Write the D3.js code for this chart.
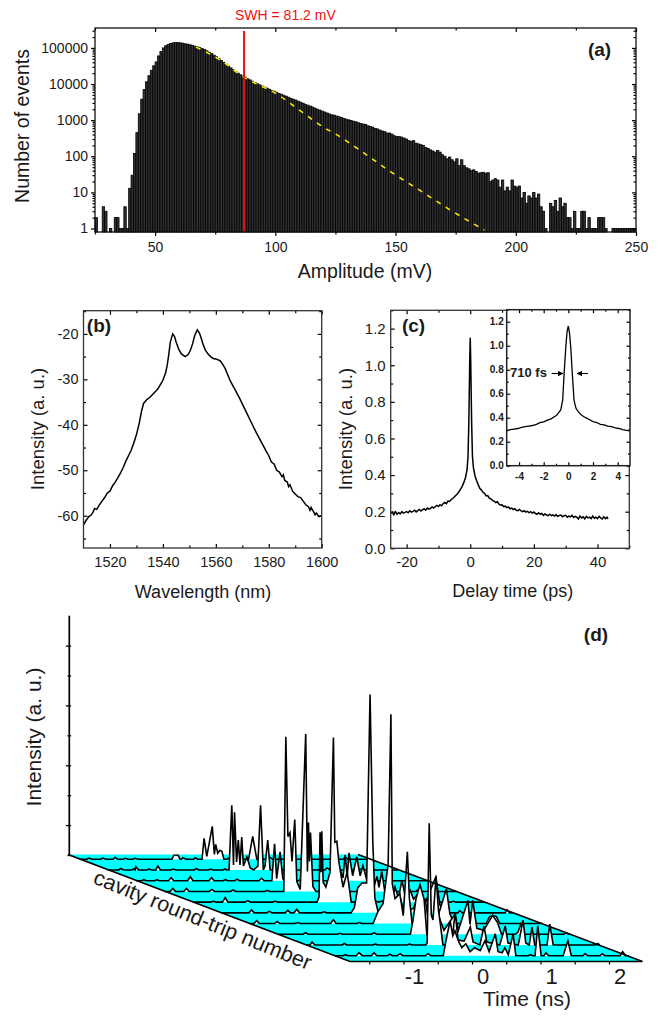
<!DOCTYPE html>
<html>
<head>
  <meta charset="utf-8">
  <title>Rogue wave statistics, spectrum, autocorrelation, time traces</title>
  <style>
  body { margin: 0; background: #fff; }
  svg { display: block; }
  text { font-family: "Liberation Sans", Arial, sans-serif; fill: #1a1a1a; }
  .domain { display: none; }
  .tick line { stroke: #000; }
  </style>
</head>
<body>
  <div id="chart"></div>
  <script src="https://d3js.org/d3.v7.min.js"></script>
  <script type="text/javascript">
    // (a) histogram, one count per 1 mV bin, first bin starts at 25 mV
    var ampStart = 25;
    var ampCounts = [2,0,0,4,3,0,1,0,2,2,1,1,4,1,13,30,120,450,1500,3800,7000,11500,17000,24000,32000,
      41000,60000,80000,100000,115000,125000,132000,138000,140000,140000,138000,135000,130000,127000,122000,
      117000,112000,107000,102000,96000,90000,83000,76000,70000,63000,57000,51000,45000,40000,35500,
      31500,28000,25000,22500,20000,18000,16800,15500,14000,13000,12000,11000,10200,9500,8800,
      8200,7700,7200,6700,6300,5900,5500,5200,4900,4600,4300,4000,3800,3600,3350,
      3150,2950,2750,2600,2450,2300,2150,2000,1900,1780,1680,1580,1480,1400,1370,
      1300,1240,1180,1120,1060,1020,980,930,900,850,810,780,760,700,670,
      640,590,570,530,500,480,440,440,410,370,350,350,340,320,300,
      270,260,270,230,220,210,200,175,165,150,140,130,145,130,110,
      100,85,95,80,70,85,55,80,55,48,45,40,42,38,34,
      35,36,34,35,20,22,24,22,14,22,11,14,11,22,15,
      14,15,7,10,5,8,7,10,7,9,4,3,1,0,5,
      4,6,3,7,4,5,2,2,1,3,1,1,3,3,1,
      2,1,1,1,2,2,2,1,0,0,1,1,1,1,1,1,1,1,1,1];
    var ampTicks = [50, 100, 150, 200, 250];
    var ampMinor = [25, 75, 125, 175, 225];
    var countTicks = [1, 10, 100, 1000, 10000, 100000];
    var gaussAmp = [67, 72, 78, 86.5, 93, 100, 110, 120.5, 125, 136, 148, 160, 172, 187];
    var gaussCount = [105000, 72000, 42000, 16000, 9500, 5600, 1900, 610, 415, 135, 37, 11.5, 3.5, 0.9];
    var swhAmp = 87;

    // (b) optical spectrum
    var specWave = [1510,1511,1512,1513,1513.6,1514.2,1515,1516,1517,1518,1519,1520,1521,1522,1523,1524,1525,1526,1527,1528,1529,1530,1531,1532,1532.7,1533.4,1534,1535,1536,1537,1538,1539,1540,1541,1541.6,1542.2,1542.8,1543.7,1544.4,1545,1546,1547,1548.4,1549.5,1550.4,1551.2,1552,1553,1553.8,1554.4,1555,1556,1557,1558,1559,1560,1561.6,1562.5,1563.5,1564.5,1565.5,1567,1569,1571,1573,1575,1577,1579,1580,1581,1582,1583,1584,1585,1585.5,1586,1587,1587.5,1588,1589,1590,1591,1592,1593,1594,1595,1595.6,1596,1597,1597.5,1598,1599,1600];
    var specDb = [-62,-61,-60.2,-59.8,-59.2,-58.4,-58.6,-57.6,-56.8,-56,-55,-54.6,-53.4,-52.6,-51.6,-50.6,-49.4,-48,-46.8,-45.6,-44,-42.2,-39.8,-36.8,-35.3,-34.8,-34.4,-34,-33.4,-32.8,-32.2,-31.2,-30.2,-28.6,-27,-24.6,-21.8,-20,-20.6,-21.8,-23.4,-24.4,-25,-24.6,-23.6,-22.2,-20.4,-19.1,-19.8,-20.8,-22,-23.5,-24.4,-25,-25.4,-25.5,-25.9,-26.6,-27.6,-29,-30.4,-32,-34.2,-36.6,-39,-41.4,-43.6,-45.8,-46.8,-48.2,-48.6,-50,-50.4,-51.4,-51,-52.2,-52.6,-53.6,-53.2,-54.6,-55.2,-55.8,-56,-56.8,-57.6,-58,-58.8,-58.2,-59.2,-59.8,-59.4,-60.2,-60,-60.6,-60.4];
    var waveTicks = [1520, 1540, 1560, 1580, 1600];
    var waveMinor = [1530, 1550, 1570, 1590];
    var dbTicks = [-60, -50, -40, -30, -20];
    var dbMinor = [-65, -55, -45, -35, -25, -15];

    // (c) autocorrelation, long scan and zoomed inset
    var acfDelay = [-25,-24.5,-24,-23.5,-23,-22.5,-22,-21.5,-21,-20.5,-20,-19.5,-19,-18.5,-18,-17.5,-17,-16.5,-16,-15.5,-15,-14.5,-14,-13.5,-13,-12.5,-12,-11.5,-11,-10.5,-10,-9.5,-9,-8.5,-8,-7.5,-7,-6.5,-6,-5.5,-5,-4.5,-4,-3.5,-3,-2.5,-2,-1.5,-1,-0.7,-0.45,-0.3,-0.15,0,0.15,0.3,0.45,0.7,1,1.5,2,2.5,3,3.5,4,4.5,5,5.5,6,6.5,7,7.5,8,8.5,9,9.5,10,10.5,11,11.5,12,12.5,13,13.5,14,14.5,15,15.5,16,16.5,17,17.5,18,18.5,19,19.5,20,20.5,21,21.5,22,22.5,23,23.5,24,24.5,25,25.5,26,26.5,27,27.5,28,28.5,29,29.5,30,30.5,31,31.5,32,32.5,33,33.5,34,34.5,35,35.5,36,36.5,37,37.5,38,38.5,39,39.5,40,40.5,41,41.5,42,42.5,43,43.3];
    var acfInt = [0.19,0.197,0.183,0.2,0.186,0.195,0.188,0.2,0.192,0.196,0.2,0.194,0.205,0.198,0.202,0.208,0.199,0.206,0.212,0.204,0.21,0.216,0.208,0.22,0.214,0.218,0.226,0.22,0.228,0.234,0.228,0.238,0.232,0.244,0.25,0.244,0.258,0.256,0.266,0.272,0.28,0.29,0.298,0.31,0.325,0.34,0.36,0.385,0.43,0.5,0.68,0.85,1.03,1.15,1.03,0.85,0.68,0.5,0.44,0.395,0.37,0.348,0.328,0.318,0.306,0.3,0.286,0.288,0.274,0.27,0.262,0.258,0.25,0.254,0.242,0.236,0.238,0.228,0.23,0.222,0.226,0.216,0.22,0.212,0.216,0.208,0.206,0.212,0.204,0.2,0.206,0.198,0.202,0.194,0.2,0.192,0.198,0.19,0.186,0.194,0.186,0.19,0.18,0.188,0.182,0.178,0.186,0.178,0.182,0.176,0.184,0.174,0.18,0.182,0.172,0.178,0.18,0.17,0.176,0.172,0.18,0.168,0.174,0.17,0.16,0.176,0.166,0.172,0.16,0.174,0.166,0.17,0.162,0.176,0.164,0.17,0.162,0.174,0.166,0.16,0.172,0.162,0.17,0.16];
    var insetDelay = [-5,-4.7,-4.4,-4.1,-3.8,-3.5,-3.2,-2.9,-2.6,-2.3,-2,-1.7,-1.4,-1.1,-0.95,-0.8,-0.62,-0.46,-0.35,-0.2,-0.1,0,0.1,0.2,0.32,0.46,0.62,0.8,1.08,1.4,1.7,2,2.3,2.6,2.9,3.2,3.5,3.8,4.1,4.4,4.7,5];
    var insetInt = [0.29,0.3,0.305,0.31,0.32,0.325,0.33,0.335,0.345,0.358,0.365,0.38,0.39,0.41,0.42,0.44,0.464,0.547,0.755,1.0,1.12,1.164,1.1,0.98,0.77,0.547,0.478,0.45,0.42,0.4,0.385,0.367,0.36,0.345,0.34,0.33,0.325,0.315,0.31,0.3,0.295,0.29];
    var delayTicks = [-20, 0, 20, 40];
    var delayMinor = [-10, 10, 30, 50];
    var intTicks = [0, 0.2, 0.4, 0.6, 0.8, 1.0, 1.2];
    var intMinor = [0.1, 0.3, 0.5, 0.7, 0.9, 1.1, 1.3];
    var insetTicks = [-4, -2, 0, 2, 4];
    var insetMinor = [-3, -1, 1, 3];

    // (d) one time trace per cavity round trip, back to front: [time ns, intensity]
    var trace0 = [[-2,0],[-1.89,0],[-1.86,1.2],[-1.82,0],[-1.69,0],[-1.66,1.2],[-1.61,0],[-1.51,0],[-1.48,2],[-1.44,0],[-1.36,0],[-1.33,1],[-1.29,0],[-1.22,0],[-1.19,1],[-1.14,0],[-0.65,0],[-0.62,4],[-0.56,4],[-0.53,0],[-0.51,0],[-0.49,1.5],[-0.44,0],[-0.33,0],[-0.31,1.5],[-0.27,0],[-0.21,0],[-0.18,21],[-0.14,3],[-0.06,33],[-0.03,5],[-0.01,15],[0.02,6],[0.05,9],[0.08,8],[0.11,0],[0.15,0],[0.17,1],[0.2,0],[0.47,0],[0.53,23],[0.59,0],[0.76,0],[0.78,2],[0.82,0],[1.27,0],[1.3,1],[1.34,0],[1.85,0],[1.88,2],[1.92,0],[2.23,0]];
    var trace1 = [[-2,0],[-1.84,0],[-1.81,1.5],[-1.77,0],[-1.65,0],[-1.62,1],[-1.6,0],[-1.59,3.5],[-1.55,0],[-1.43,0],[-1.4,1],[-1.36,0],[-1.3,0],[-1.27,4],[-1.23,0],[-1.08,0],[-1.05,1],[-1,0],[-0.74,0],[-0.71,1.5],[-0.67,0],[-0.53,0],[-0.5,1],[-0.46,0],[-0.32,0],[-0.29,1],[-0.26,0],[-0.23,0],[-0.19,65],[-0.165,5],[-0.15,58],[-0.12,8],[-0.095,30],[-0.07,5],[-0.045,33],[-0.02,4],[0.03,13],[0.08,2],[0.13,0],[0.19,4],[0.23,65],[0.27,0],[0.295,4],[0.335,30],[0.37,0],[0.67,0],[0.7,1],[0.75,0],[1.17,0],[1.2,2],[1.25,0],[1.67,0],[1.7,1],[1.75,0],[2.24,0]];
    var trace2 = [[-2,0],[-1.92,0],[-1.89,1],[-1.85,0],[-1.73,0],[-1.7,1],[-1.66,0],[-1.53,0],[-1.49,3],[-1.45,0],[-1.25,0],[-1.21,4],[-1.17,0],[-0.94,0],[-0.9,3],[-0.86,0],[-0.73,0],[-0.7,1],[-0.66,0],[-0.56,0],[-0.53,1.5],[-0.49,0],[-0.21,0],[-0.17,2.5],[-0.13,0],[-0.02,0],[0.02,37],[0.05,2],[0.1,29],[0.14,2],[0.17,0],[0.37,0],[0.4,2],[0.45,0],[0.92,0],[0.97,12],[1.02,3],[1.05,26],[1.08,4],[1.106,28],[1.16,5],[1.22,24],[1.27,5],[1.31,15],[1.37,0],[1.67,0],[1.7,2],[1.75,0],[2.25,0]];
    var trace3 = [[-2,0],[-1.92,0],[-1.88,3],[-1.84,0],[-1.72,0],[-1.68,3],[-1.64,0],[-1.35,0],[-1.31,2],[-1.27,0],[-1.04,0],[-1,1.5],[-0.96,0],[-0.54,0],[-0.5,1],[-0.46,0],[-0.26,0],[-0.23,155],[-0.2,55],[-0.17,59],[-0.14,30],[-0.1,72],[-0.07,10],[-0.02,2],[0.06,158],[0.085,20],[0.1,69],[0.115,30],[0.13,59],[0.165,5],[0.21,0],[0.57,0],[0.6,2],[0.65,0],[1.02,0],[1.05,3],[1.1,15],[1.13,4],[1.17,20],[1.21,2],[1.26,0],[1.67,0],[1.7,2],[1.75,0],[2.26,0]];
    var trace4 = [[-2,0],[-1.74,0],[-1.7,1],[-1.66,0],[-1.57,0],[-1.53,4.5],[-1.49,0],[-1.24,0],[-1.2,1.5],[-1.16,0],[-0.84,0],[-0.8,1],[-0.76,0],[-0.19,0],[-0.16,5],[-0.145,70],[-0.13,30],[-0.12,71],[-0.1,20],[-0.06,15],[0,30],[0.05,165],[0.07,60],[0.1,61],[0.13,40],[0.19,15],[0.25,30],[0.31,0],[0.62,0],[0.65,2],[0.7,0],[0.91,3],[0.95,15],[1,4],[1.05,22],[1.1,5],[1.17,12],[1.22,3],[1.28,8],[1.33,0],[1.77,0],[1.8,1],[1.84,0],[2.26,0]];
    var trace5 = [[-2,0],[-1.6,0],[-1.56,3],[-1.52,0],[-1.34,0],[-1.3,1.5],[-1.26,0],[-1.07,0],[-1.03,2.5],[-0.99,0],[-0.94,0],[-0.9,3.5],[-0.86,0],[-0.54,0],[-0.5,1],[-0.46,0],[-0.11,0],[-0.06,5],[-0.01,25],[0.05,30],[0.12,30],[0.17,219],[0.21,72],[0.24,15],[0.29,0],[0.5,3],[0.61,15],[0.66,3],[0.8,4],[0.9,20],[0.94,4],[1.13,36],[1.19,8],[1.25,0],[1.45,0],[1.48,2],[1.52,0],[2.14,0],[2.17,3],[2.21,0],[2.27,0]];
    var trace6 = [[-2,0],[-1.94,0],[-1.9,3],[-1.86,0],[-1.64,0],[-1.6,2],[-1.56,0],[-1.34,0],[-1.3,1],[-1.26,0],[-0.82,0],[-0.78,4],[-0.74,0],[-0.44,0],[-0.4,1],[-0.36,0],[-0.2,0],[-0.13,12],[-0.055,20],[0.02,60],[0.06,210],[0.08,40],[0.12,25],[0.19,30],[0.24,8],[0.3,72],[0.33,25],[0.37,0],[0.48,3],[0.56,25],[0.6,6],[0.75,8],[0.87,35],[0.92,10],[0.98,0],[1.45,0],[1.5,7],[1.55,8],[1.6,7],[1.65,0],[2.27,0]];
    var trace7 = [[-2,0],[-1.64,0],[-1.6,1.5],[-1.56,0],[-1.14,0],[-1.1,1],[-1.06,0],[-0.64,0],[-0.6,1.5],[-0.56,0],[-0.07,0],[-0.03,15],[0.01,35],[0.07,50],[0.13,35],[0.17,0],[0.36,15],[0.42,4],[0.58,20],[0.63,4],[0.77,34],[0.8,10],[0.84,34],[0.9,6],[1,4],[1.07,12],[1.13,19],[1.2,12],[1.26,0],[1.46,0],[1.5,2],[1.54,10],[1.59,0],[2.17,0],[2.2,1.5],[2.24,0],[2.27,0]];
    var trace8 = [[-2,0],[-1.95,0],[-1.92,3],[-1.88,0],[-1.48,0],[-1.45,1.5],[-1.41,0],[-1.03,0],[-1,1],[-0.96,0],[-0.53,0],[-0.5,1],[-0.46,0],[-0.26,0],[-0.24,2],[-0.21,122],[-0.18,30],[-0.155,25],[-0.11,69],[-0.075,35],[-0.045,20],[-0.01,0],[0.09,0],[0.14,15],[0.17,33],[0.21,5],[0.3,4],[0.39,18],[0.43,3],[0.53,0],[0.59,19],[0.63,3],[0.82,0],[0.9,19],[0.94,2],[1.09,0],[1.16,25],[1.2,2],[1.25,0],[1.29,18],[1.33,0],[1.51,0],[1.55,21],[1.6,0],[2.22,0],[2.25,1.5],[2.28,0]];
    var trace9 = [[-2,0],[-1.88,0],[-1.85,1],[-1.81,0],[-1.69,0],[-1.65,3],[-1.6,0],[-1.47,0],[-1.43,3],[-1.39,0],[-1.23,0],[-1.2,1.5],[-1.16,0],[-1.09,0],[-1.05,2],[-1.01,0],[-0.68,0],[-0.64,2],[-0.6,0],[-0.42,0],[-0.38,15],[-0.32,35],[-0.28,20],[-0.25,25],[-0.2,15],[-0.15,8],[-0.09,12],[-0.03,4],[0.04,8],[0.12,5],[0.19,15],[0.25,4],[0.34,22],[0.38,4],[0.44,3],[0.48,8],[0.53,1],[0.6,22],[0.64,0],[0.82,0],[0.85,1],[0.89,0],[0.92,0],[0.96,30],[1.01,0],[1.05,0],[1.08,3],[1.12,0],[1.33,0],[1.4,15],[1.45,0],[1.62,0],[1.65,2],[1.69,0],[1.87,0],[1.9,2],[1.94,0],[2.16,0],[2.2,4],[2.24,0],[2.29,0]];
    var traces = [trace0, trace1, trace2, trace3, trace4, trace5, trace6, trace7, trace8, trace9];
    var timeTicks = [-1.5, -1, -0.5, 0, 0.5, 1, 1.5, 2];
    var timeLabels = [-1, 0, 1, 2];
    var intensityTicks = [0, 30, 60, 90, 120, 150, 180, 210];

    var svg = d3.select("#chart").append("svg")
        .attr("width", 658)
        .attr("height", 1017);

    var fmtPlain = function(d) { return String(d); };
    var fmtOne = function(d) { return d.toFixed(1); };

    // draws ticks only; opts.inward turns them to the inside of the frame
    function addAxis(g, axisFn, scale, major, minor, opts) {
      var sign = opts.inward ? -1 : 1;
      var ax = g.append("g").attr("transform", opts.translate);
      ax.call(axisFn(scale)
          .tickValues(major)
          .tickFormat(opts.labels ? opts.format : "")
          .tickSizeInner(sign * opts.len)
          .tickSizeOuter(0)
          .tickPadding(opts.padding));
      // axis() puts its own font on the group, so this has to come after the call
      ax.attr("font-size", opts.fontSize)
          .attr("font-family", "Liberation Sans")
          .attr("font-weight", opts.bold ? "bold" : "normal");
      var mn = g.append("g").attr("transform", opts.translate);
      mn.call(axisFn(scale)
          .tickValues(minor)
          .tickFormat("")
          .tickSizeInner(sign * opts.minorLen)
          .tickSizeOuter(0));
      ax.selectAll(".tick line").attr("stroke-width", 1.2);
      mn.selectAll(".tick line").attr("stroke-width", 1.2);
    }

    function frameAxes(g, x, y, xMajor, xMinor, yMajor, yMinor, opts) {
      var x0 = x.range()[0], x1 = x.range()[1], y0 = y.range()[0], y1 = y.range()[1];
      var base = {len: opts.len, minorLen: opts.minorLen, fontSize: opts.fontSize, bold: opts.bold};
      addAxis(g, d3.axisBottom, x, xMajor, xMinor, Object.assign({}, base, {translate: "translate(0," + y0 + ")", inward: opts.inward, labels: true, format: opts.xFormat, padding: opts.xPad}));
      addAxis(g, d3.axisLeft, y, yMajor, yMinor, Object.assign({}, base, {translate: "translate(" + x0 + ",0)", inward: opts.inward, labels: true, format: opts.yFormat, padding: opts.yPad}));
      addAxis(g, d3.axisTop, x, xMajor, xMinor, Object.assign({}, base, {translate: "translate(0," + y1 + ")", inward: true, labels: false, padding: 0}));
      addAxis(g, d3.axisRight, y, yMajor, yMinor, Object.assign({}, base, {translate: "translate(" + x1 + ",0)", inward: true, labels: false, padding: 0}));
      g.append("rect")
          .attr("x", x0).attr("y", y1)
          .attr("width", x1 - x0).attr("height", y0 - y1)
          .attr("fill", "none")
          .attr("stroke", opts.frameColor || "#111")
          .attr("stroke-width", opts.frameWidth || 1.3);
    }

    function label(g, txt, x, y, size, opts) {
      opts = opts || {};
      var t = g.append("text")
          .attr("x", x).attr("y", y)
          .attr("font-size", size)
          .attr("text-anchor", opts.anchor || "middle")
          .attr("font-weight", opts.bold ? "bold" : "normal")
          .text(txt);
      if (opts.rotate !== undefined) t.attr("transform", "rotate(" + opts.rotate + " " + x + " " + y + ")");
      if (opts.fill) t.style("fill", opts.fill);
      return t;
    }

    // ---- panel a
    function drawHistogram() {
      var g = svg.append("g");
      var x = d3.scaleLinear().domain([25, 250]).range([95, 636]);
      var y = d3.scaleLog().domain([0.8, 356000]).range([232, 28]);

      g.append("g").selectAll("rect")
        .data(ampCounts.map(function(c, i) { return {bin: ampStart + i, count: c}; })
          .filter(function(d) { return d.count > 0; }))
        .enter().append("rect")
          .attr("x", function(d) { return x(d.bin); })
          .attr("width", function(d) { return x(d.bin + 1) - x(d.bin); })
          .attr("y", function(d) { return y(d.count); })
          .attr("height", function(d) { return y.range()[0] - y(d.count); })
          .attr("fill", "#303030")
          .attr("stroke", "#000")
          .attr("stroke-width", 0.8);

      g.append("path")
          .datum(d3.zip(gaussAmp, gaussCount))
          .attr("fill", "none")
          .attr("stroke", "#ffee00")
          .attr("stroke-width", 1.5)
          .attr("stroke-dasharray", "5,6")
          .attr("d", d3.line()
            .curve(d3.curveMonotoneX)
            .x(function(d) { return x(d[0]); })
            .y(function(d) { return y(d[1]); }));

      g.append("line")
          .attr("x1", x(swhAmp)).attr("x2", x(swhAmp))
          .attr("y1", 31).attr("y2", y.range()[0])
          .attr("stroke", "#f00c0c")
          .attr("stroke-width", 2);

      var minorCounts = [];
      countTicks.forEach(function(c) {
        [2, 3, 4, 5, 6, 7, 8, 9].forEach(function(k) { minorCounts.push(c * k); });
      });
      minorCounts = minorCounts.filter(function(c) { return c < 356000; });

      frameAxes(g, x, y, ampTicks, ampMinor, countTicks, minorCounts, {
        len: 4, minorLen: 2.5, fontSize: 14, xFormat: fmtPlain, yFormat: fmtPlain, xPad: 6, yPad: 3, frameWidth: 1.3
      });

      label(g, "SWH = 81.2 mV", 235, 20, 14, {anchor: "start", fill: "#f01010"});
      label(g, "Amplitude (mV)", 365, 278, 19.5);
      label(g, "Number of events", 29, 126, 19.5, {rotate: -90});
      label(g, "(a)", 599.5, 56, 19, {bold: true});
    }

    // ---- panel b
    function drawSpectrum() {
      var g = svg.append("g");
      var x = d3.scaleLinear().domain([1510, 1600]).range([83.5, 321.7]);
      var y = d3.scaleLinear().domain([-67.1, -14.9]).range([548, 310.7]);

      g.append("path")
          .datum(d3.zip(specWave, specDb))
          .attr("fill", "none")
          .attr("stroke", "#000")
          .attr("stroke-width", 1.5)
          .attr("d", d3.line()
            .x(function(d) { return x(d[0]); })
            .y(function(d) { return y(d[1]); }));

      frameAxes(g, x, y, waveTicks, waveMinor, dbTicks, dbMinor, {
        inward: true, len: 4, minorLen: 2.5, fontSize: 14.5, xFormat: fmtPlain, yFormat: fmtPlain,
        xPad: 8.5, yPad: 5, frameColor: "#333"
      });

      label(g, "Wavelength (nm)", 203, 597.5, 18);
      label(g, "Intensity (a. u.)", 44, 429, 18.5, {rotate: -90});
      label(g, "(b)", 99, 332, 19, {bold: true});
    }

    // ---- panel c
    function drawAutocorrelation() {
      var g = svg.append("g");
      var x = d3.scaleLinear().domain([-25, 50]).range([390.7, 629.3]);
      var y = d3.scaleLinear().domain([0, 1.3]).range([548.3, 310.3]);

      g.append("path")
          .datum(d3.zip(acfDelay, acfInt))
          .attr("fill", "none")
          .attr("stroke", "#000")
          .attr("stroke-width", 1.5)
          .attr("d", d3.line()
            .x(function(d) { return x(d[0]); })
            .y(function(d) { return y(d[1]); }));

      frameAxes(g, x, y, delayTicks, delayMinor, intTicks, intMinor, {
        inward: true, len: 4, minorLen: 2.5, fontSize: 15, xFormat: fmtPlain, yFormat: fmtOne,
        xPad: 8, yPad: 5, frameColor: "#333"
      });

      label(g, "Delay time (ps)", 512.7, 597, 18);
      label(g, "Intensity (a. u.)", 352, 429, 18.5, {rotate: -90});
      label(g, "(c)", 413.5, 332, 19, {bold: true});

      // inset
      var gi = svg.append("g");
      var xi = d3.scaleLinear().domain([-5, 5]).range([506.7, 630]);
      var yi = d3.scaleLinear().domain([0, 1.3]).range([465.7, 309.7]);
      gi.append("rect")
          .attr("x", 506.7).attr("y", 309.7)
          .attr("width", 123.3).attr("height", 156)
          .attr("fill", "#fff");
      gi.append("path")
          .datum(d3.zip(insetDelay, insetInt))
          .attr("fill", "none")
          .attr("stroke", "#000")
          .attr("stroke-width", 1.3)
          .attr("d", d3.line()
            .x(function(d) { return xi(d[0]); })
            .y(function(d) { return yi(d[1]); }));
      frameAxes(gi, xi, yi, insetTicks, insetMinor, intTicks, intMinor, {
        inward: true, len: 3.5, minorLen: 2, fontSize: 10, bold: true, xFormat: fmtPlain, yFormat: fmtOne,
        xPad: 7, yPad: 3, frameWidth: 1.5, frameColor: "#222"
      });

      label(gi, "710 fs", 510, 377, 13, {anchor: "start", bold: true});
      var defs = svg.append("defs");
      defs.append("marker")
          .attr("id", "head").attr("viewBox", "0 0 6 6")
          .attr("refX", 5.5).attr("refY", 3)
          .attr("markerWidth", 5).attr("markerHeight", 5)
          .attr("orient", "auto")
        .append("path")
          .attr("d", "M0,0L6,3L0,6Z")
          .attr("fill", "#000");
      [[551.7, 563], [588, 577]].forEach(function(a) {
        gi.append("line")
            .attr("x1", a[0]).attr("x2", a[1])
            .attr("y1", 373.5).attr("y2", 373.5)
            .attr("stroke", "#000")
            .attr("stroke-width", 1.1)
            .attr("marker-end", "url(#head)");
      });
    }

    // ---- panel d
    function drawWaterfall() {
      var g = svg.append("g");
      var x = d3.scaleLinear().domain([-1, 2]).range([403.5, 609]);
      var intensity = d3.scaleLinear().domain([0, 240]).range([0, 239.3]);
      var rowY = d3.scaleLinear().domain([0, 9]).range([859.3, 955.7]);
      var rowShift = d3.scaleLinear().domain([0, 9]).range([-255.6, 0]);

      // floor of the plot
      g.append("path")
          .attr("d", "M68,854.5L358,854.5L642.5,961.5L350,961.5Z")
          .attr("fill", "#00ffff");

      traces.forEach(function(tr, r) {
        var row = g.append("g")
            .attr("transform", "translate(" + rowShift(r) + "," + rowY(r) + ")");
        row.append("path")
            .datum(tr)
            .attr("fill", "#fff")
            .attr("d", d3.area()
              .x(function(d) { return x(d[0]); })
              .y0(0)
              .y1(function(d) { return -intensity(d[1]); }));
        row.append("path")
            .datum(tr)
            .attr("fill", "none")
            .attr("stroke", "#000")
            .attr("stroke-width", 1.6)
            .attr("d", d3.line()
              .x(function(d) { return x(d[0]); })
              .y(function(d) { return -intensity(d[1]); }));
      });

      // edges of the floor
      g.append("path")
          .attr("d", "M68,854.5L350,961.5L642.5,961.5L358,854.5")
          .attr("fill", "none")
          .attr("stroke", "#000")
          .attr("stroke-width", 1.7);

      // time axis, numbers sit a little right of their ticks as in the figure
      var axis = g.append("g").attr("transform", "translate(0,961.5)");
      axis.call(d3.axisBottom(x)
          .tickValues(timeTicks)
          .tickFormat("")
          .tickSizeInner(3)
          .tickSizeOuter(0));
      axis.selectAll(".tick line").attr("stroke-width", 1.2);
      g.selectAll(".time-label")
        .data(timeLabels)
        .enter().append("text")
          .attr("class", "time-label")
          .attr("x", function(d) { return x(d) + 11; })
          .attr("y", 984)
          .attr("font-size", 22)
          .attr("text-anchor", "middle")
          .text(fmtPlain);

      // intensity axis
      var iy = d3.scaleLinear().domain([0, 240]).range([855, 615.7]);
      var vert = g.append("g").attr("transform", "translate(69.3,0)");
      vert.call(d3.axisLeft(iy)
          .tickValues(intensityTicks)
          .tickFormat("")
          .tickSize(0));
      vert.selectAll(".tick line")
          .attr("x1", function(d, i) { return i % 2 ? -3.5 : -1.8; })
          .attr("x2", 1.8)
          .attr("stroke-width", 1.3);
      g.append("line")
          .attr("x1", 69.3).attr("x2", 69.3)
          .attr("y1", 615.7).attr("y2", 855)
          .attr("stroke", "#000")
          .attr("stroke-width", 1.7);

      label(g, "Intensity (a. u.)", 41, 737, 21, {rotate: -90});
      label(g, "cavity round-trip number", 92, 883, 21.6, {anchor: "start", rotate: 22});
      label(g, "Time (ns)", 527, 1006, 21);
      label(g, "(d)", 596, 641, 19, {bold: true});
    }

    drawHistogram();
    drawSpectrum();
    drawAutocorrelation();
    drawWaterfall();
  </script>
</body>
</html>
